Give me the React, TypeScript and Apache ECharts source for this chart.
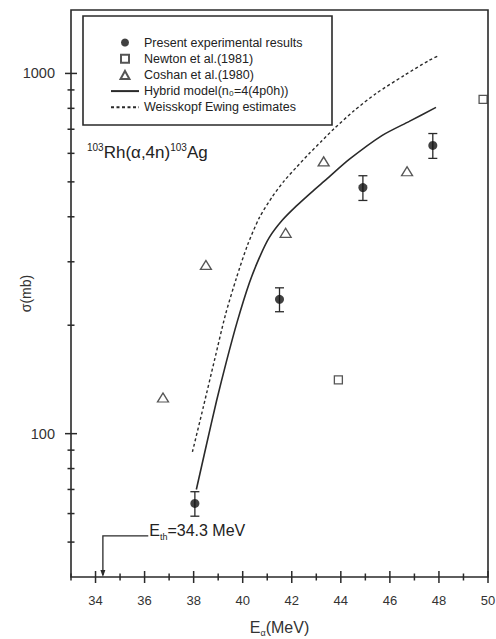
import React, { useEffect, useRef } from "react";
import * as echarts from "echarts";

// Present experimental results: energy (MeV), cross section (mb), error (mb)
const presentX = [38.05, 41.5, 44.9, 47.75];
const presentY = [64, 236, 482, 631];
const presentErr = [5, 18, 38, 50];

// Newton et al. (1981)
const newtonX = [43.9, 49.8];
const newtonY = [141, 847];

// Coshan et al. (1980)
const coshanX = [36.75, 38.5, 41.75, 43.3, 46.7];
const coshanY = [126, 294, 361, 570, 535];

// Hybrid model curve
const hybridX = [38.11, 38.52, 38.93, 39.33, 39.78, 40.27, 40.68, 41.08, 41.61, 42.18, 42.79, 43.41, 44.34, 45.69, 46.79, 47.88];
const hybridY = [70, 93, 123, 158, 205, 262, 308, 350, 391, 428, 467, 508, 577, 673, 736, 805];

// Weisskopf-Ewing estimates curve
const weisskopfX = [37.95, 38.4, 38.85, 39.29, 39.74, 40.19, 40.68, 41.21, 41.7, 42.18, 42.71, 43.2, 43.73, 44.55, 45.44, 46.58, 47.6, 48.01];
const weisskopfY = [89, 119, 160, 213, 270, 333, 398, 455, 504, 548, 599, 647, 703, 789, 880, 987, 1087, 1122];

// Axis ticks and labels
const xMajorTicks = [34, 36, 38, 40, 42, 44, 46, 48, 50];
const xMinorTicks = [33, 35, 37, 39, 41, 43, 45, 47, 49];
const yMajorTicks = [100, 1000];
const yMinorTicks = [50, 60, 70, 80, 90, 200, 300, 400, 500, 600, 700, 800, 900];

// Threshold energy marker
const thresholdE = 34.3;
const thresholdBendY = 52;
const thresholdTextX = 36.15;

const X_MIN = 33;
const X_MAX = 50;
const Y_MIN = 40;
const Y_MAX = 1500;

const NAME_PRESENT = "Present experimental results";
const NAME_NEWTON = "Newton et al.(1981)";
const NAME_COSHAN = "Coshan et al.(1980)";
const NAME_HYBRID = "Hybrid model(n\u2080=4(4p0h))";
const NAME_WE = "Weisskopf Ewing estimates";

const INK = "#2a2a2a";
const FONT = "'Liberation Sans', Arial, Helvetica, sans-serif";

const zip = (xs: number[], ys: number[]) => xs.map((x, i) => [x, ys[i]]);

export default function App() {
  const ref = useRef<HTMLDivElement>(null);

  useEffect(() => {
    if (!ref.current) return;
    const chart = echarts.init(ref.current, undefined, { renderer: "svg" });

    const errorData = presentX.map((x, i) => [
      x,
      presentY[i] - presentErr[i],
      presentY[i] + presentErr[i],
    ]);

    const tickData = [
      ...xMajorTicks.map((v) => [v, Y_MIN, 6, 0]),
      ...xMinorTicks.map((v) => [v, Y_MIN, 3.5, 0]),
      ...yMajorTicks.map((v) => [X_MIN, v, 6, 1]),
      ...yMinorTicks.map((v) => [X_MIN, v, 3.5, 1]),
    ];

    const hiddenSymbol = { color: "transparent", borderWidth: 0 };

    const option: any = {
      animation: false,
      backgroundColor: "#ffffff",
      textStyle: { fontFamily: FONT },
      grid: {
        left: 71,
        right: 8,
        top: 10,
        bottom: 62,
        containLabel: false,
        outerBoundsMode: "none",
        show: true,
        borderColor: INK,
        borderWidth: 1.6,
        backgroundColor: "transparent",
      },
      xAxis: {
        type: "value",
        min: X_MIN,
        max: X_MAX,
        axisLine: { show: false },
        axisTick: { show: false },
        splitLine: { show: false },
        axisLabel: {
          customValues: xMajorTicks,
          margin: 17,
          fontSize: 13,
          color: "#333",
          fontFamily: FONT,
          formatter: (v: number) => String(Math.round(v)),
        },
        name: "{m|E}{s|\u03b1}{m|(MeV)}",
        nameLocation: "middle",
        nameGap: 40,
        nameMoveOverlap: false,
        nameTextStyle: {
          fontFamily: FONT,
          color: "#333",
          rich: {
            m: { fontSize: 16, lineHeight: 20, color: "#333", fontFamily: FONT },
            s: { fontSize: 9, verticalAlign: "bottom", color: "#333", fontFamily: FONT },
          },
        },
      },
      yAxis: {
        type: "log",
        logBase: 10,
        min: Y_MIN,
        max: Y_MAX,
        axisLine: { show: false },
        axisTick: { show: false },
        splitLine: { show: false },
        axisLabel: {
          customValues: yMajorTicks,
          margin: 16,
          fontSize: 14.5,
          color: "#333",
          fontFamily: FONT,
          formatter: (v: number) => String(Math.round(v)),
        },
        name: "\u03c3(mb)",
        nameLocation: "middle",
        nameGap: 38,
        nameMoveOverlap: false,
        nameTextStyle: { fontSize: 14, color: "#333", fontFamily: FONT },
      },
      legend: {
        orient: "vertical",
        left: 110,
        top: 36,
        padding: 0,
        itemWidth: 28,
        itemHeight: 8,
        itemGap: 3.2,
        selectedMode: false,
        data: [
          { name: NAME_PRESENT, icon: "circle" },
          { name: NAME_NEWTON, icon: "path://M0,0L8,0L8,8L0,8Z" },
          { name: NAME_COSHAN, icon: "path://M5,0L10,9L0,9Z" },
          { name: NAME_HYBRID, itemStyle: hiddenSymbol },
          { name: NAME_WE, itemStyle: hiddenSymbol },
        ],
        textStyle: { fontSize: 12.5, color: "#222", fontFamily: FONT },
      },
      graphic: [
        {
          type: "rect",
          shape: { x: 83, y: 16, width: 249, height: 109 },
          style: { fill: "none", stroke: INK, lineWidth: 1.6 },
          z: 5,
        },
        {
          type: "text",
          left: 87,
          top: 142,
          style: {
            text: "{p|103}{m|Rh(\u03b1,4n)}{p|103}{m|Ag}",
            rich: {
              m: { fontSize: 17, lineHeight: 21, fill: "#222", fontFamily: FONT },
              p: { fontSize: 10, verticalAlign: "top", fill: "#222", fontFamily: FONT },
            },
          },
          z: 5,
        },
      ],
      series: [
        {
          // Frame tick marks, centred on the frame edge.
          type: "custom",
          name: "ticks",
          silent: true,
          clip: false,
          z: 6,
          data: tickData,
          dimensions: ["x", "y", "len", "dir"],
          encode: { x: "x", y: "y" },
          renderItem: (_p: any, api: any) => {
            const p = api.coord([api.value("x"), api.value("y")]);
            const len = api.value("len");
            const horiz = api.value("dir") === 1;
            return {
              type: "line",
              shape: horiz
                ? { x1: p[0] - len, y1: p[1], x2: p[0] + len, y2: p[1] }
                : { x1: p[0], y1: p[1] - len, x2: p[0], y2: p[1] + len },
              style: { stroke: INK, lineWidth: 1.5 },
            };
          },
        },
        {
          type: "line",
          name: NAME_HYBRID,
          data: zip(hybridX, hybridY),
          smooth: 0.25,
          symbol: "none",
          showSymbol: false,
          lineStyle: { color: INK, width: 1.6 },
          itemStyle: { color: INK },
          z: 2,
        },
        {
          type: "line",
          name: NAME_WE,
          data: zip(weisskopfX, weisskopfY),
          smooth: 0.25,
          symbol: "none",
          showSymbol: false,
          lineStyle: { color: INK, width: 1.4, type: [3, 2.5] },
          itemStyle: { color: INK },
          z: 2,
        },
        {
          type: "custom",
          name: "errors",
          silent: true,
          data: errorData,
          encode: { x: 0, y: [1, 2] },
          z: 3,
          renderItem: (_p: any, api: any) => {
            const x = api.value(0);
            const a = api.coord([x, api.value(1)]);
            const b = api.coord([x, api.value(2)]);
            const w = 4.5;
            const style = { stroke: INK, lineWidth: 1.3 };
            return {
              type: "group",
              children: [
                { type: "line", shape: { x1: a[0], y1: a[1], x2: b[0], y2: b[1] }, style },
                { type: "line", shape: { x1: a[0] - w, y1: a[1], x2: a[0] + w, y2: a[1] }, style },
                { type: "line", shape: { x1: b[0] - w, y1: b[1], x2: b[0] + w, y2: b[1] }, style },
              ],
            };
          },
        },
        {
          type: "scatter",
          name: NAME_PRESENT,
          data: zip(presentX, presentY),
          symbol: "circle",
          symbolSize: 9,
          itemStyle: { color: "#111" },
          z: 4,
        },
        {
          type: "scatter",
          name: NAME_NEWTON,
          data: zip(newtonX, newtonY),
          symbol: "rect",
          symbolSize: 8,
          itemStyle: { color: "#fff", borderColor: INK, borderWidth: 1.3 },
          z: 4,
        },
        {
          type: "scatter",
          name: NAME_COSHAN,
          data: zip(coshanX, coshanY),
          symbol: "triangle",
          symbolSize: [11, 9],
          itemStyle: { color: "#fff", borderColor: INK, borderWidth: 1.3 },
          z: 4,
        },
        {
          type: "custom",
          name: "threshold",
          silent: true,
          clip: false,
          data: [[thresholdE, thresholdBendY, thresholdTextX]],
          z: 4,
          renderItem: (_p: any, api: any) => {
            const e = api.value(0);
            const yb = api.value(1);
            const tx = api.value(2);
            const base = api.coord([e, Y_MIN]);
            const bend = api.coord([e, yb]);
            const end = api.coord([tx, yb]);
            const style = { stroke: INK, lineWidth: 1.3, fill: "none" };
            return {
              type: "group",
              children: [
                {
                  type: "polyline",
                  shape: { points: [[base[0], base[1] - 2], [bend[0], bend[1]], [end[0], end[1]]] },
                  style,
                },
                {
                  type: "polygon",
                  shape: {
                    points: [
                      [base[0] - 2.5, base[1] - 7],
                      [base[0] + 2.5, base[1] - 7],
                      [base[0], base[1]],
                    ],
                  },
                  style: { fill: INK, stroke: "none" },
                },
                {
                  type: "text",
                  x: end[0] + 1,
                  y: end[1] - 5,
                  style: {
                    text: "{m|E}{s|th}{m|=34.3 MeV}",
                    align: "left",
                    verticalAlign: "middle",
                    rich: {
                      m: { fontSize: 16, lineHeight: 21, fill: "#222", fontFamily: FONT },
                      s: { fontSize: 9, verticalAlign: "bottom", fill: "#222", fontFamily: FONT },
                    },
                  },
                },
              ],
            };
          },
        },
      ],
    };

    chart.setOption(option);
    return () => chart.dispose();
  }, []);

  return (
    <div
      ref={ref}
      style={{ position: "fixed", left: 0, top: 0, width: 496, height: 639, background: "#fff" }}
    />
  );
}
